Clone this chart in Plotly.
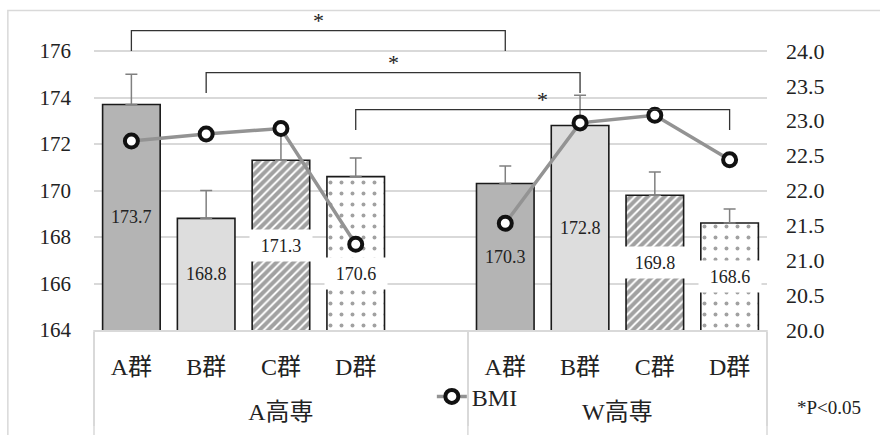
import plotly.graph_objects as go

# ---------------- data ----------------
schools = ["A高専", "W高専"]
groups = ["A群", "B群", "C群", "D群"]
height_a = [173.7, 168.8, 171.3, 170.6]
height_w = [170.3, 172.8, 169.8, 168.6]
sd_a = [1.3, 1.2, 1.4, 0.8]
sd_w = [0.75, 1.3, 1.0, 0.6]
bmi_a = [22.71, 22.81, 22.89, 21.23]
bmi_w = [21.53, 22.97, 23.08, 22.44]
left_ticks = [164, 166, 168, 170, 172, 174, 176]
right_ticks = [20.0, 20.5, 21.0, 21.5, 22.0, 22.5, 23.0, 23.5, 24.0]
# significance pairs: (group index in A高専, group index in W高専)
sig_pairs = [(0, 0), (1, 1), (3, 3)]
sig_label = "*"
note = "*P<0.05"

# ---------------- build slots (blank slot after A高専) ----------------
# a leading line break pushes the school row further below the group row
outer_lbl = ["<br>" + s for s in schools]
outer = [outer_lbl[0]] * (len(groups) + 1) + [outer_lbl[1]] * len(groups)
inner = groups + [" "] + groups
heights = height_a + [None] + height_w
sds = sd_a + [None] + sd_w
bmis = bmi_a + [None] + bmi_w
n = len(inner)
n_first = len(groups) + 1

def slot(school, g):
    return g if school == 0 else n_first + g

fill = {"A群": "#b4b4b4", "B群": "#dddddd", "C群": "white", "D群": "white", " ": "white"}
pshape = {"A群": "", "B群": "", "C群": "/", "D群": ".", " ": ""}
psize = {"A群": 8, "B群": 8, "C群": 6, "D群": 11, " ": 8}
psol = {"A群": 0.3, "B群": 0.3, "C群": 0.68, "D群": 0.1, " ": 0.3}

FONT = "Liberation Serif, 'Noto Sans CJK JP', serif"
TXT = "#222222"
GRID = "#d9d9d9"

fig = go.Figure()
fig.add_trace(go.Bar(
    x=[outer, inner], y=heights,
    marker=dict(
        color=[fill[c] for c in inner],
        line=dict(color="#1a1a1a", width=1.6),
        pattern=dict(shape=[pshape[c] for c in inner], fgcolor="#000000",
                     size=[psize[c] for c in inner], solidity=[psol[c] for c in inner]),
    ),
    error_y=dict(type="data", array=sds, arrayminus=[0] * n, symmetric=False,
                 color="#808080", thickness=1.5, width=6),
    showlegend=False, hoverinfo="skip",
))
fig.add_trace(go.Scatter(
    x=[outer, inner], y=bmis, yaxis="y2", name="BMI",
    mode="lines+markers", connectgaps=False,
    line=dict(color="#939393", width=3.5),
    marker=dict(symbol="circle", size=13, color="white", line=dict(color="#111111", width=4)),
))

y_lo, y_hi = 164, 177.68
r_lo, r_hi = 20.0, 24.56

annotations = []
# value labels
for i, (c, v) in enumerate(zip(inner, heights)):
    if v is None:
        continue
    boxed = pshape[c] != ""
    ys = -20 if i == 3 else 0
    lab = dict(
        x=(i + 0.5) / n, xref="x domain", xanchor="center", y=(y_lo + v) / 2, yref="y",
        yanchor="middle", text=f"{v:.1f}", showarrow=False, yshift=ys,
        font=dict(family=FONT, size=18, color=TXT),
        bgcolor="white" if boxed else "rgba(0,0,0,0)", borderpad=0,
    )
    if boxed:
        lab.update(width=62, height=31)
    annotations.append(lab)

shapes = []
# significance brackets
bracket_levels = [(176.88, 176.0), (175.07, 174.2), (173.48, 172.6)]
for (ga, gw), (top, leg) in zip(sig_pairs, bracket_levels):
    xa = (slot(0, ga) + 0.5) / n
    xw = (slot(1, gw) + 0.5) / n
    shapes.append(dict(type="path", xref="x domain", yref="y",
                       path=f"M {xa},{leg} L {xa},{top} L {xw},{top} L {xw},{leg}",
                       line=dict(color="#333333", width=1.3)))
    annotations.append(dict(x=(xa + xw) / 2, xref="x domain", xanchor="center", y=top, yref="y",
                            text=sig_label, showarrow=False, yanchor="bottom", yshift=-4,
                            font=dict(family=FONT, size=22, color=TXT)))

# category dividers extended to the bottom edge
for xd in [0, n_first / n, 1]:
    shapes.append(dict(type="line", xref="x domain", yref="paper", x0=xd, x1=xd, y0=0, y1=-0.5,
                       line=dict(color=GRID, width=1.5), layer="below"))

# chart border
shapes.append(dict(type="rect", xref="paper", yref="paper", x0=-0.128, x1=2, y0=-2, y1=1.005,
                   line=dict(color=GRID, width=1.5), layer="below"))

annotations.append(dict(x=1.092, xref="paper", xanchor="center", y=-0.245, yref="paper",
                        yanchor="middle", text=note, showarrow=False,
                        font=dict(family=FONT, size=19, color=TXT)))

fig.update_layout(
    width=880, height=435,
    margin=dict(l=94, r=113, t=12, b=105),
    paper_bgcolor="white", plot_bgcolor="white",
    bargap=0.23,
    font=dict(family=FONT, size=20, color=TXT),
    xaxis=dict(type="multicategory", showdividers=True, dividercolor=GRID, dividerwidth=1.5,
               showline=True, linecolor=GRID, linewidth=1.5, showgrid=False, ticks="",
               tickfont=dict(size=24, family=FONT, color=TXT), range=[-0.5, n - 0.5],
               ticklabelstandoff=14),
    yaxis=dict(range=[y_lo, y_hi], tickvals=left_ticks, showgrid=True, gridcolor=GRID,
               gridwidth=1.5, zeroline=False, showline=False, ticks="",
               tickfont=dict(size=21, family=FONT, color=TXT), ticklabelstandoff=22),
    yaxis2=dict(overlaying="y", side="right", range=[r_lo, r_hi], tickvals=right_ticks,
                ticktext=[f"{t:.1f}" for t in right_ticks], showgrid=False, zeroline=False,
                ticks="", tickfont=dict(size=22, family=FONT, color=TXT), ticklabelstandoff=18),
    legend=dict(x=0.502, y=-0.21, xanchor="left", yanchor="middle",
                bgcolor="rgba(0,0,0,0)", font=dict(size=24, family=FONT, color=TXT)),
    annotations=annotations, shapes=shapes,
)

fig.write_html("out.html")
